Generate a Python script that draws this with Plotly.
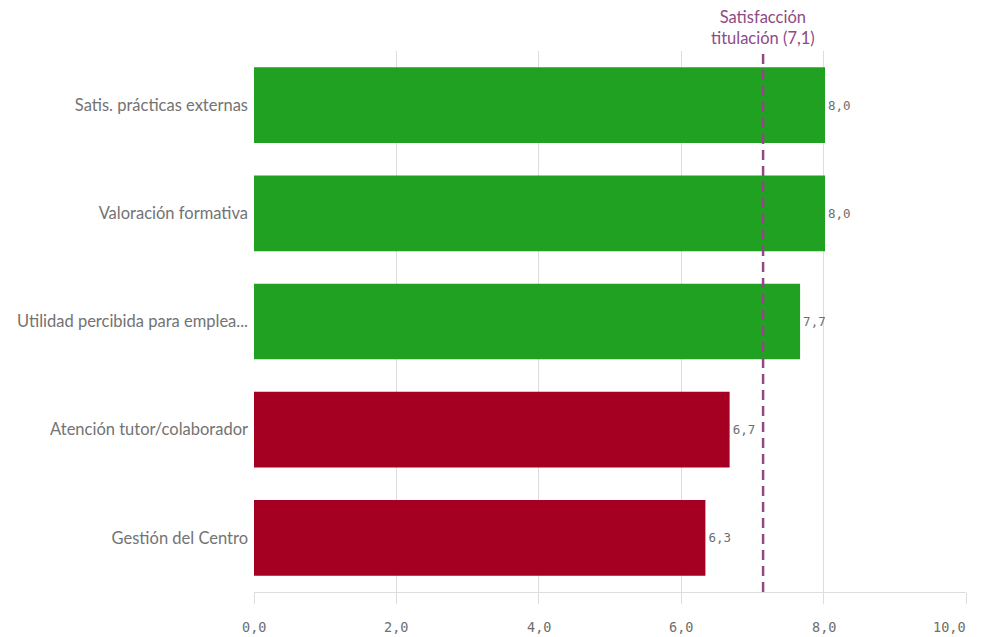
import plotly.graph_objects as go

categories = ["Gestión del Centro", "Atención tutor/colaborador", "Utilidad percibida para emplea...",
              "Valoración formativa", "Satis. prácticas externas"]
values = [6.34, 6.68, 7.67, 8.02, 8.02]
colors = ["#a50021", "#a50021", "#21a121", "#21a121", "#21a121"]
reference_value = 7.15
reference_label = "Satisfacción<br>titulación (7,1)"
x_ticks = [0, 2, 4, 6, 8, 10]
x_tick_labels = ["0,0", "2,0", "4,0", "6,0", "8,0", "10,0"]

fig = go.Figure()
fig.add_trace(go.Bar(
    y=categories, x=values, orientation="h",
    marker=dict(color=colors, line=dict(width=0)),
    text=values, texttemplate="%{x:.1f}", textposition="outside",
    textfont=dict(family="DejaVu Sans Mono", size=12.5, color="#6e6e6e"),
    cliponaxis=False, hoverinfo="skip",
))

fig.add_shape(type="line", xref="x", yref="paper", x0=reference_value, x1=reference_value,
              y0=0, y1=1, line=dict(color="#8e4a86", width=2.5, dash="10px,6px"))
fig.add_annotation(x=reference_value, xref="x", y=1, yref="paper", yanchor="bottom",
                   text=reference_label, showarrow=False,
                   font=dict(family="Lato", size=16.5, color="#8e4a86"), yshift=1)

for i, (tv, tl) in enumerate(zip(x_ticks, x_tick_labels)):
    last = i == len(x_ticks) - 1
    fig.add_annotation(x=tv, xref="x", y=0, yref="paper", yanchor="middle",
                       xanchor="right" if last else "center",
                       xshift=2 if last else 0,
                       text=tl, showarrow=False, yshift=-35,
                       font=dict(family="DejaVu Sans Mono", size=13.5, color="#6e6e6e"))

fig.update_layout(
    width=982, height=629,
    margin=dict(l=246, r=24, t=43, b=45),
    plot_bgcolor="white", paper_bgcolor="white",
    separators=",.",
    bargap=0.3,
    showlegend=False,
    xaxis=dict(range=[0, 10], tickvals=x_ticks, showticklabels=False,
               showgrid=True, gridcolor="#dddddd", gridwidth=1,
               showline=True, linecolor="#dddddd", linewidth=1,
               ticks="outside", ticklen=11, tickcolor="#dddddd",
               zeroline=False, fixedrange=True, automargin=False),
    yaxis=dict(categoryorder="array", categoryarray=categories, range=[-0.5, 4.5],
               showgrid=False, zeroline=False, ticks="", ticklabelstandoff=5,
               automargin=False,
               tickfont=dict(family="Lato", size=16.5, color="#737373")),
)

fig.write_html("out.html")
